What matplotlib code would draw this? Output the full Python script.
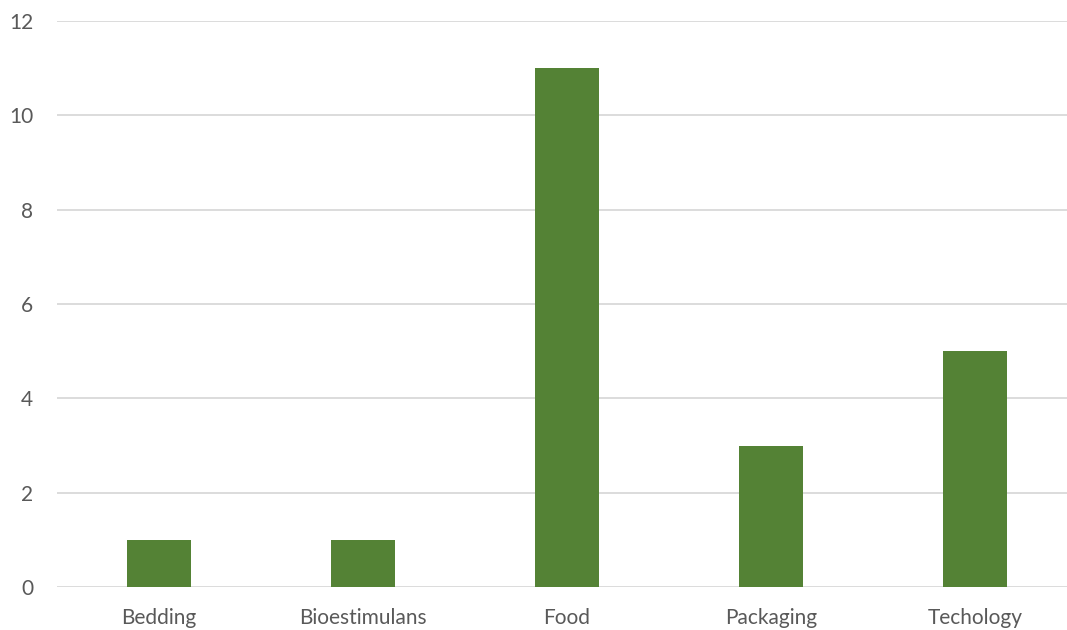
import matplotlib
matplotlib.use("Agg")
import matplotlib.pyplot as plt

categories = ["Bedding", "Bioestimulans", "Food", "Packaging", "Techology"]
values = [1, 1, 11, 3, 5]
yticks = [0, 2, 4, 6, 8, 10, 12]

W, H = 1067, 630
fig = plt.figure(figsize=(W / 100, H / 100), dpi=100)
left, right = 57, 1077
bottom, top = 587, 21
ax = fig.add_axes([left / W, 1 - bottom / H, (right - left) / W, (bottom - top) / H])
plt.rcParams['font.family'] = ['Lato', 'DejaVu Sans']

ax.bar(range(len(categories)), values, width=0.314, color="#548235", zorder=3)
ax.set_xlim(-0.5, len(categories) - 0.5)
ax.set_ylim(0, 12)
ax.set_yticks(yticks)
ax.set_xticks(range(len(categories)))
ax.set_xticklabels(categories, family=['Lato', 'DejaVu Sans'])
ax.set_yticklabels([str(v) for v in yticks], family=['Lato', 'DejaVu Sans'])
ax.grid(axis="y", color="#D9D9D9", linewidth=1.3, zorder=0)
for s in ax.spines.values():
    s.set_visible(False)
ax.tick_params(axis="both", length=0, labelsize=15, colors="#595959")
ax.tick_params(axis="y", pad=17)
ax.tick_params(axis="x", pad=15)
fig.savefig("out.png", dpi=100)
